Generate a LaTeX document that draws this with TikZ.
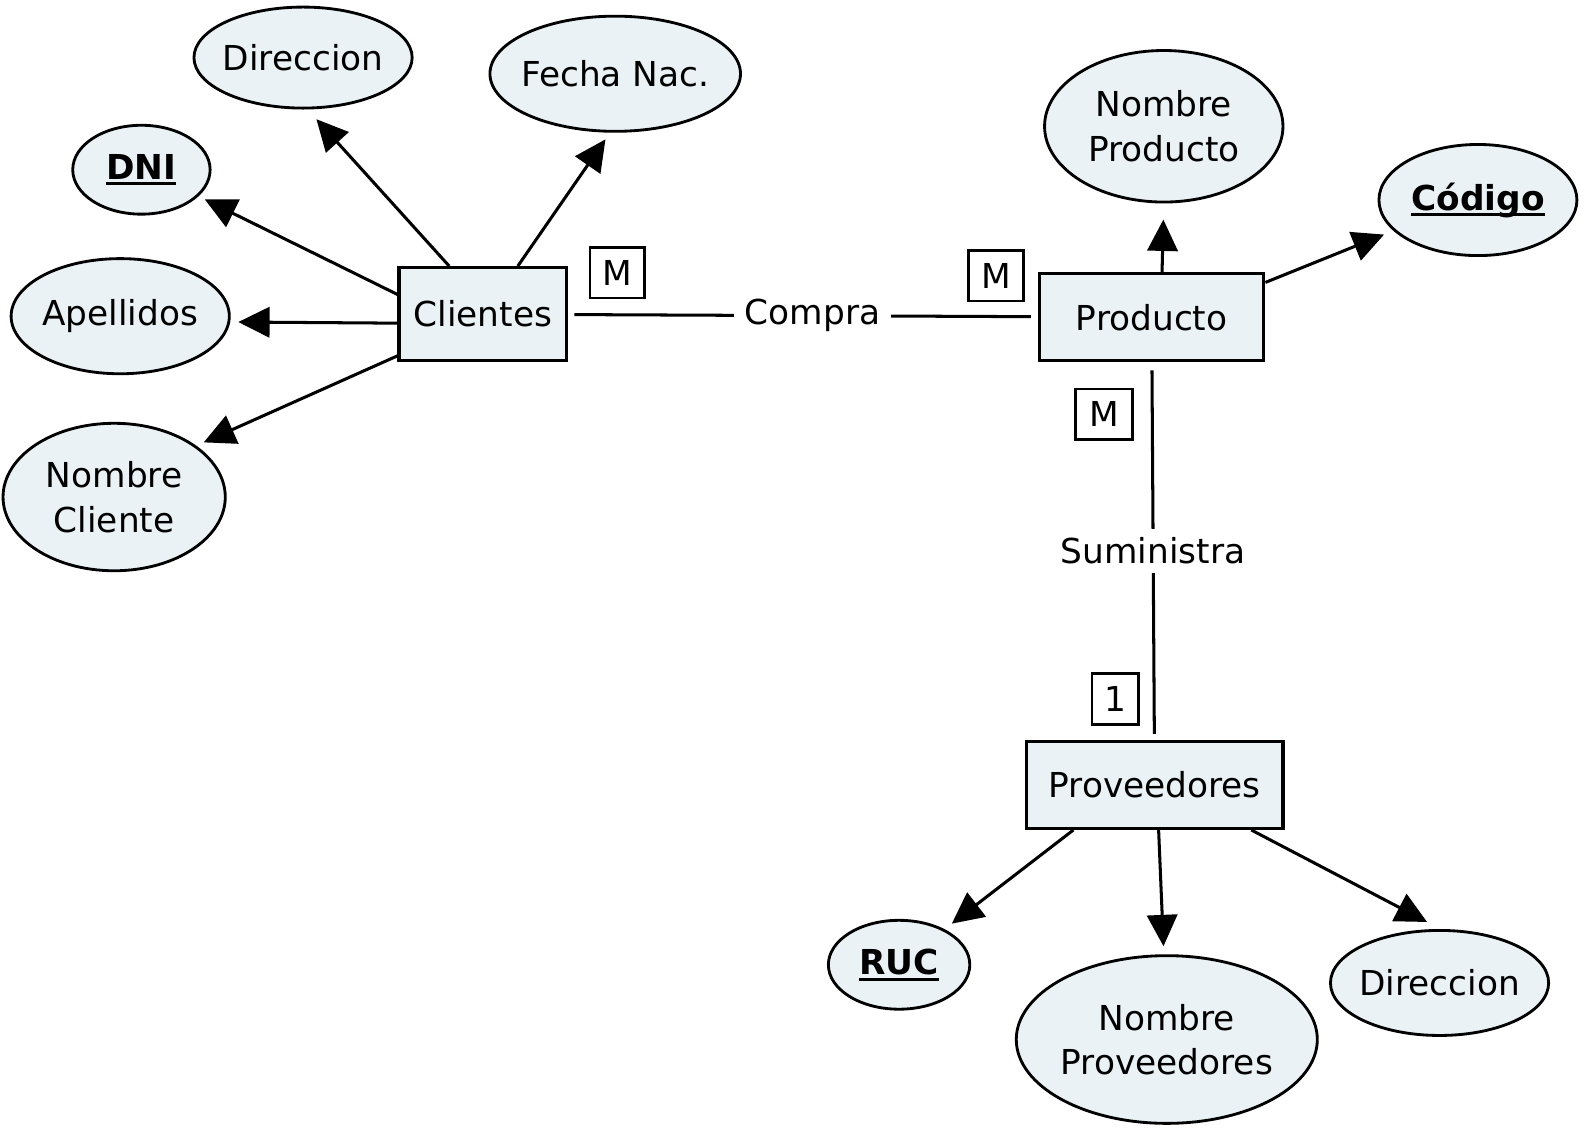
\documentclass[tikz,border=0pt]{standalone}
\usepackage{fontspec}
\setmainfont{DejaVu Sans}
\usetikzlibrary{arrows.meta,shapes.geometric}
\definecolor{PaleBlue}{HTML}{EAF2F5}
\newcommand{\keyattr}[1]{\setbox0\hbox{\bfseries #1}\rlap{\rule[-6pt]{\wd0}{2.8pt}}\box0}
\tikzset{
  entity/.style={draw, fill=PaleBlue, line width=3.2pt, inner sep=0pt},
  attr/.style={ellipse, draw, fill=PaleBlue, line width=2.8pt, inner xsep=-12pt, inner ysep=0pt, align=center},
  card/.style={draw, line width=2.8pt, minimum width=54pt, minimum height=50pt, inner sep=0pt},
  arr/.style={-{Triangle[length=31pt,width=30pt]}, line width=3pt},
  rel/.style={line width=3pt}
}
\begin{document}
\begin{tikzpicture}[x=1pt,y=-1pt,font=\fontsize{34}{44}\selectfont]
\useasboundingbox (0,0) rectangle (1568,1119);
% entidades
\node[entity,minimum width=166pt,minimum height=92pt] (clientes) at (478,311) {Clientes};
\node[entity,minimum width=222pt,minimum height=86pt] (producto) at (1140,314) {Producto};
\node[entity,minimum width=254pt,minimum height=86pt] (proveedores) at (1143,777) {Proveedores};
% atributos
\node[attr,minimum width=216pt,minimum height=100pt] (dirCli) at (300,57) {Direccion};
\node[attr,minimum width=248pt,minimum height=114pt] (fecha) at (609,73) {Fecha Nac.};
\node[attr,minimum width=136pt,minimum height=88pt] (dni) at (140,168) {\keyattr{DNI}};
\node[attr,minimum width=216pt,minimum height=114pt] (apellidos) at (119,313) {Apellidos};
\node[attr,minimum width=220pt,minimum height=146pt] (nomCli) at (113,492) {Nombre\\Cliente};
\node[attr,minimum width=236pt,minimum height=150pt] (nomProd) at (1152,125) {Nombre\\Producto};
\node[attr,minimum width=196pt,minimum height=110pt] (codigo) at (1463,198) {\keyattr{Código}};
\node[attr,minimum width=140pt,minimum height=88pt] (ruc) at (890,955) {\keyattr{RUC}};
\node[attr,minimum width=298pt,minimum height=166pt] (nomProv) at (1155,1029) {Nombre\\Proveedores};
\node[attr,minimum width=216pt,minimum height=104pt] (dirProv) at (1425,973) {Direccion};
% cardinalidades
\node[card] (mCompraC) at (611,270) {M};
\node[card] (mCompraP) at (986,273) {M};
\node[card,minimum width=56pt] (mSumP) at (1093,410) {M};
\node[card,minimum width=46pt] (unoSum) at (1104,692) {1};
% relaciones
\draw[rel,shorten <=6pt,shorten >=7pt] (clientes) -- node[pos=.52,fill=white,inner xsep=11pt]{Compra} (producto);
\draw[rel,shorten <=8pt,shorten >=6pt] (producto) -- node[fill=white,inner ysep=9pt]{Suministra} (proveedores);
% flechas a los atributos
\draw[arr,shorten >=13pt] (clientes.125) -- (dirCli.-85);
\draw[arr,shorten >=8pt] (clientes.54) -- (fecha.-95);
\draw[arr,shorten >=7pt] (clientes.167) -- (dni.-25);
\draw[arr,shorten >=8pt] (clientes.186) -- (apellidos.-3);
\draw[arr,shorten >=8pt] (clientes.206) -- (nomCli.32);
\draw[arr,shorten >=16pt] (producto.77) -- (nomProd.-90);
\draw[arr,shorten >=10pt] (producto.17) -- (codigo.200);
\draw[arr,shorten >=9pt] (proveedores.209) -- (ruc.38);
\draw[arr,shorten >=8pt] (proveedores.-85) -- (nomProv.92);
\draw[arr,shorten >=15pt] (proveedores.-25) -- (dirProv.89);
\end{tikzpicture}
\end{document}
